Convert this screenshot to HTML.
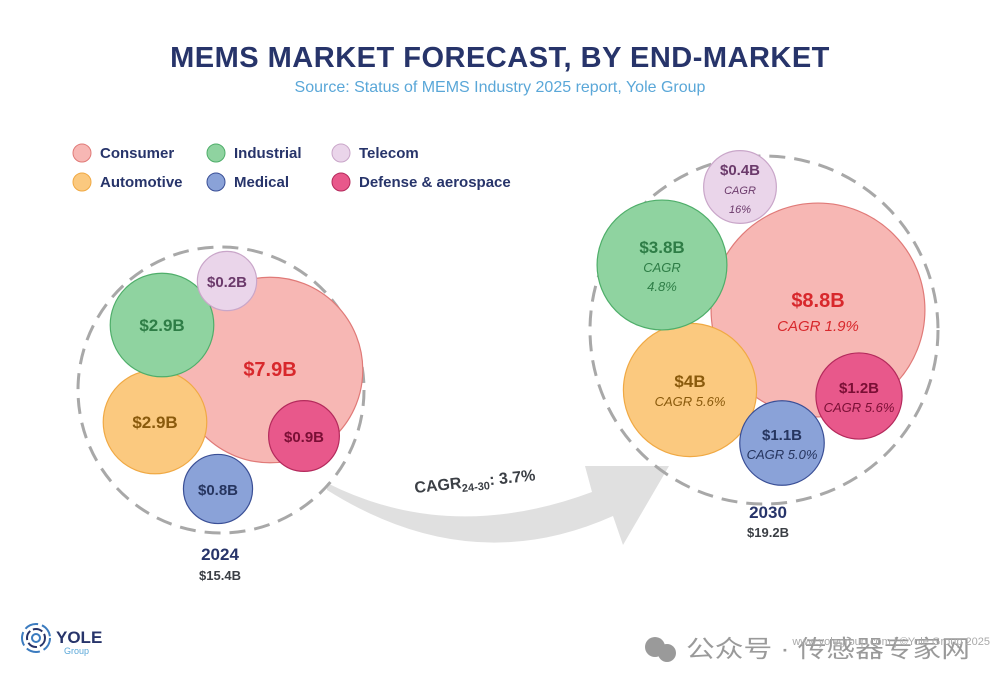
<!DOCTYPE html>
<html><head><meta charset="utf-8">
<style>
body{margin:0;background:#fff;}
svg{display:block;font-family:"Liberation Sans","Noto Sans CJK SC",sans-serif;}
</style></head>
<body>
<svg id="chart" width="1000" height="685" viewBox="0 0 1000 685">
<text x="500" y="67" text-anchor="middle" font-size="29" fill="#27346a" font-weight="bold" letter-spacing="0.5">MEMS MARKET FORECAST, BY END-MARKET</text>
<text x="500" y="92" text-anchor="middle" font-size="16" fill="#5aa7d8">Source: Status of MEMS Industry 2025 report, Yole Group</text>
<g id="legend"></g>
<path d="M327,483 Q450,545 592,492 L585,466 L669,466 L623,545 L613,516 Q470,580 327,490 Z" fill="#e0e0e0"/>
<text x="415" y="493" font-size="16" font-weight="bold" fill="#3b3f45" transform="rotate(-6 415 493)">CAGR<tspan font-size="11" dy="4">24-30</tspan><tspan dy="-4">: 3.7%</tspan></text>
<g id="bubbles"></g>
<text x="220" y="560" text-anchor="middle" font-size="17" font-weight="bold" fill="#27346a">2024</text>
<text x="220" y="580" text-anchor="middle" font-size="13" font-weight="bold" fill="#3b3f45">$15.4B</text>
<text x="768" y="518" text-anchor="middle" font-size="17" font-weight="bold" fill="#27346a">2030</text>
<text x="768" y="537" text-anchor="middle" font-size="13" font-weight="bold" fill="#3b3f45">$19.2B</text>
<g>
<circle cx="36" cy="638" r="14" fill="none" stroke="#3b7bbf" stroke-width="2" stroke-dasharray="14 4"/>
<circle cx="36" cy="638" r="9" fill="none" stroke="#27346a" stroke-width="2" stroke-dasharray="10 3"/>
<circle cx="36" cy="638" r="4" fill="none" stroke="#3b7bbf" stroke-width="2"/>
<text x="56" y="643" font-size="17" font-weight="bold" fill="#27346a">YOLE</text>
<text x="64" y="654" font-size="9" fill="#5aa7d8">Group</text>
</g>
<g>
<circle cx="655" cy="647" r="10" fill="#9a9a9a"/><circle cx="667" cy="653" r="9" fill="#9a9a9a"/>
<text x="686" y="657" font-size="24" fill="#9a9a9a" textLength="284" lengthAdjust="spacingAndGlyphs">公众号 · 传感器专家网</text>
<text x="990" y="645" text-anchor="end" font-size="11" fill="#aaa">www.yolegroup.com | ©Yole Group 2025</text>
</g>
</svg>
<script>
const segments = ["Consumer","Automotive","Industrial","Medical","Telecom","Defense & aerospace"];
const values2024 = [7.9, 2.9, 2.9, 0.8, 0.2, 0.9];
const labels2024 = ["$7.9B","$2.9B","$2.9B","$0.8B","$0.2B","$0.9B"];
const values2030 = [8.8, 4.0, 3.8, 1.1, 0.4, 1.2];
const labels2030 = ["$8.8B","$4B","$3.8B","$1.1B","$0.4B","$1.2B"];
const cagr2030 = ["CAGR 1.9%","CAGR 5.6%","CAGR|4.8%","CAGR 5.0%","CAGR|16%","CAGR 5.6%"];

const fills = ["#f7b7b4","#fbc97f","#8fd3a0","#8aa2d8","#ead5ea","#e8588b"];
const strokes = ["#e07a78","#f0a944","#4fae6a","#3a4f96","#c9a6c9","#b42a5c"];
const textCol = ["#d8282c","#8a5a0c","#2e7d46","#26355f","#6b3a6b","#7a0f35"];
const anchors2024 = [[270,370],[155,422],[162,325],[218,489],[227,281],[304,436]];
const anchors2030 = [[818,310],[690,390],[662,265],[782,443],[740,187],[859,396]];
const r24 = v => 28 + 8.2*v;
const r30 = v => 33 + 8.4*v;
const NS = "http://www.w3.org/2000/svg";
const g = document.getElementById('bubbles');
function mk(tag, attrs, parent){const e=document.createElementNS(NS,tag);for(const k in attrs)e.setAttribute(k,attrs[k]);parent.appendChild(e);return e;}

const leg = document.getElementById('legend');
const legPos = [[82,153],[82,182],[216,153],[216,182],[341,153],[341,182]];
segments.forEach((s,i)=>{
  const p = legPos[i];
  const c = mk('circle',{cx:p[0],cy:p[1],r:9,fill:fills[i],stroke:strokes[i],'stroke-width':1},leg);
  
  
  const t = mk('text',{x:p[0]+18,y:p[1]+5,'font-size':15,'font-weight':'bold',fill:'#27346a'},leg);
  t.textContent = s;
  
  
});

const o1 = mk('circle',{cx:221,cy:390,r:143,fill:'none',stroke:'#a8a8a8','stroke-width':3,'stroke-dasharray':'16 9'},g);


const o2 = mk('circle',{cx:764,cy:330,r:174,fill:'none',stroke:'#a8a8a8','stroke-width':3,'stroke-dasharray':'16 9'},g);



function draw(vals, labs, anchors, rf, cagrs, yr){
  vals.forEach((v,i)=>{
    const [cx,cy] = anchors[i];
    const r = rf(v);
    const c = mk('circle',{cx:cx,cy:cy,r:r,fill:fills[i],stroke:strokes[i],'stroke-width':1.2},g);
    
    
    const big = i===0;
    const fs = big ? 20 : (r>45?17:15);
    let lines = cagrs ? cagrs[i].split('|') : [];
    const total = 1 + lines.length;
    let y0 = cy + 6 - (total-1)*9;
    const t = mk('text',{x:cx,y:y0,'text-anchor':'middle','font-size':fs,'font-weight':'bold',fill:textCol[i]},g);
    t.textContent = labs[i];
    
    
    lines.forEach((ln,j)=>{
      const s = mk('text',{x:cx,y:y0+(big?24:19)*(j+1),'text-anchor':'middle','font-size':big?15:(r<42?11:13),'font-style':'italic',fill:textCol[i]},g);
      s.textContent = ln;
      
      
    });
  });
}
draw(values2024, labels2024, anchors2024, r24, null, '2024');
draw(values2030, labels2030, anchors2030, r30, cagr2030, '2030');
</script>
</body></html>
